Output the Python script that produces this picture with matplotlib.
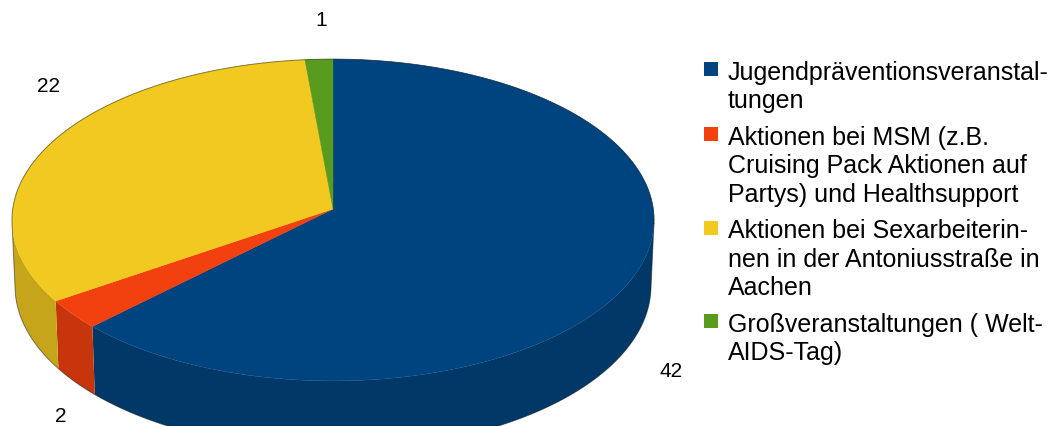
import numpy as np
import matplotlib
matplotlib.use("Agg")
import matplotlib.pyplot as plt
from matplotlib.patches import Polygon, Rectangle

# slice data, clockwise from 12 o'clock
values = [42, 2, 22, 1]
labels = [
    "Jugendpräventionsveranstal-\ntungen",
    "Aktionen bei MSM (z.B.\nCruising Pack Aktionen auf\nPartys) und Healthsupport",
    "Aktionen bei Sexarbeiterin-\nnen in der Antoniusstraße in\nAachen",
    "Großveranstaltungen ( Welt-\nAIDS-Tag)",
]
value_text = ["42", "2", "22", "1"]

# styling / layout
top_colors = ["#00447f", "#f2410f", "#f2c921", "#589b1e"]
side_shade = 0.82
label_xy = [(671, 372), (61, 417), (49, 87), (321, 21)]

# simple perspective camera for the 3D disc (unit radius)
apex_x, apex_y = 333, 210   # pixel of the disc centre
focal = 4058                 # pixel scale
dist = 12.67                 # camera distance in radii
elev = np.radians(30)
thick = 0.24                 # disc height in radii
cs, sn = np.cos(elev), np.sin(elev)

plt.rcParams['font.family'] = ['Liberation Sans', 'DejaVu Sans']

fig = plt.figure(figsize=(10.57, 4.27), dpi=100)
ax = fig.add_axes([0, 0, 1, 1])
ax.set_xlim(0, 1057)
ax.set_ylim(427, 0)
ax.axis('off')


def project(phi_deg, yw=0.0):
    t = np.radians(np.atleast_1d(phi_deg))
    X, Z = np.cos(t), np.sin(t)
    depth = dist - yw * sn + Z * cs
    up = yw * cs + Z * sn
    return np.column_stack([apex_x + focal * X / depth, apex_y - focal * up / depth])


def arc(t0, t1, yw=0.0, n=240):
    return project(np.linspace(t0, t1, n), yw)


def darker(c, f):
    r, g, b = matplotlib.colors.to_rgb(c)
    return (r * f, g * f, b * f)


fracs = np.array(values, dtype=float) / sum(values)
starts = 90 - 360 * np.concatenate([[0], np.cumsum(fracs)[:-1]])
ends = starts - 360 * fracs

# visible part of the side wall
delta = np.degrees(np.arcsin(1.0 / (dist * cs)))
front_lo, front_hi = -180 + delta, -delta

for s, e, col in zip(starts, ends, top_colors):
    hi, lo = min(s, front_hi), max(e, front_lo)
    if hi <= lo:
        continue
    top = arc(hi, lo)
    bot = arc(lo, hi, yw=-thick)
    ax.add_patch(Polygon(np.vstack([top, bot]), closed=True,
                         facecolor=darker(col, side_shade), edgecolor='none'))

# top faces
for s, e, col in zip(starts, ends, top_colors):
    pts = np.vstack([[apex_x, apex_y], arc(s, e)])
    ax.add_patch(Polygon(pts, closed=True, facecolor=col,
                         edgecolor=col, linewidth=0.3))

# thin dark silhouette
back = arc(front_hi, 360 + front_lo)
front = arc(360 + front_lo, 360 + front_hi, yw=-thick)
outline = np.vstack([back, front, back[:1]])
ax.plot(outline[:, 0], outline[:, 1], color='#1a1a1a', lw=0.7, alpha=0.5)

# value labels
for txt, (x, y) in zip(value_text, label_xy):
    ax.text(x, y, txt, fontsize=15, ha='center', va='center', color='black')

# legend drawn by hand
line_h = 28.3
y_c = 70
for lab, col in zip(labels, top_colors):
    ax.add_patch(Rectangle((704, y_c - 7), 14, 14, facecolor=col, edgecolor='none'))
    y_base = y_c + 10
    for line in lab.split("\n"):
        ax.text(728, y_base, line, fontsize=18, ha='left',
                va='baseline', color='black')
        y_base += line_h
    y_c += line_h * len(lab.split("\n")) + 8.5

fig.savefig("out.png", dpi=100)
